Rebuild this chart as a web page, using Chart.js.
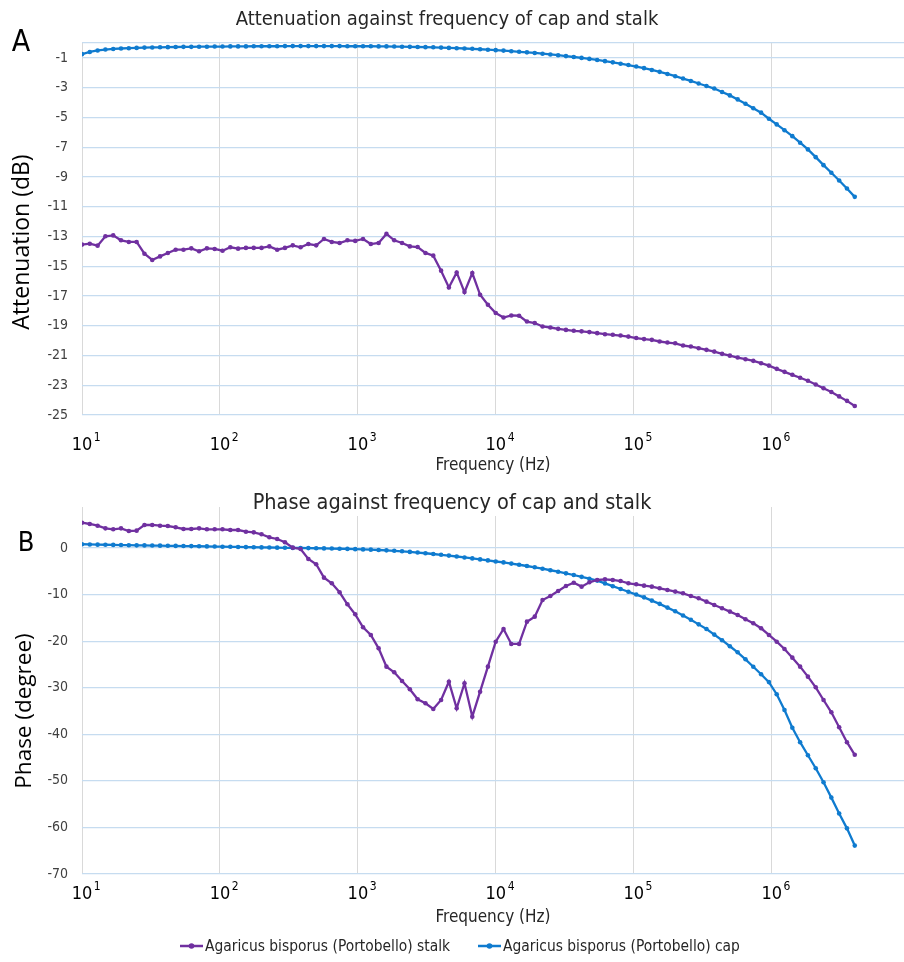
<!DOCTYPE html>
<html>
<head>
<meta charset="utf-8">
<script src="https://cdn.jsdelivr.net/npm/chart.js@4.4.0/dist/chart.umd.min.js"></script>
<style>
  html, body { margin: 0; padding: 0; background: #fff; overflow: hidden; }
  #wrap { position: relative; width: 904px; height: 962px; overflow: hidden; }
  canvas { position: absolute; left: 0; }
  #attChart { top: 0; }
  #phaseChart { top: 480px; }
</style>
</head>
<body>
<div id="wrap">
  <canvas id="attChart" width="904" height="480"></canvas>
  <canvas id="phaseChart" width="904" height="482"></canvas>
</div>
<script>
// sweep frequencies (Hz)
const freq = [
  10, 11.39, 12.98, 14.78, 16.84, 19.18, 21.85, 24.89, 28.36, 32.3,
  36.8, 41.92, 47.75, 54.4, 61.97, 70.6, 80.42, 91.61, 104.4, 118.9,
  135.4, 154.3, 175.8, 200.2, 228.1, 259.9, 296, 337.2, 384.2, 437.6,
  498.5, 567.9, 646.9, 737, 839.5, 956.4, 1090, 1241, 1414, 1611,
  1835, 2090, 2381, 2712, 3090, 3520, 4010, 4568, 5203, 5928,
  6752, 7692, 8762, 9981, 11370, 12950, 14750, 16810, 19150, 21810,
  24850, 28300, 32240, 36730, 41840, 47660, 54290, 61850, 70460, 80260,
  91430, 104200, 118700, 135200, 154000, 175400, 199800, 227600, 259300, 295400,
  336500, 383300, 436700, 497400, 566700, 645500, 735400, 837700, 954300, 1087000,
  1238000, 1411000, 1607000, 1830000, 2085000, 2375000, 2706000, 3083000, 3511000, 4000000
];

// attenuation (dB)
const attStalk = [
  -13.55, -13.49, -13.62, -12.99, -12.93, -13.26, -13.37, -13.37, -14.16, -14.58,
  -14.34, -14.11, -13.89, -13.89, -13.80, -14.00, -13.80, -13.84, -13.96, -13.73,
  -13.82, -13.77, -13.77, -13.77, -13.67, -13.89, -13.77, -13.60, -13.73, -13.51,
  -13.60, -13.17, -13.37, -13.44, -13.26, -13.30, -13.17, -13.51, -13.44, -12.83,
  -13.26, -13.44, -13.67, -13.71, -14.11, -14.29, -15.30, -16.43, -15.42, -16.74,
  -15.46, -16.92, -17.59, -18.15, -18.45, -18.31, -18.33, -18.72, -18.82, -19.05,
  -19.12, -19.21, -19.28, -19.34, -19.38, -19.43, -19.50, -19.57, -19.61, -19.66,
  -19.73, -19.83, -19.90, -19.95, -20.06, -20.13, -20.18, -20.33, -20.40, -20.51,
  -20.62, -20.74, -20.89, -21.01, -21.14, -21.25, -21.36, -21.52, -21.68, -21.90,
  -22.10, -22.30, -22.50, -22.70, -22.95, -23.20, -23.45, -23.75, -24.05, -24.40
];
const attCap = [
  -0.75, -0.60, -0.50, -0.44, -0.40, -0.37, -0.35, -0.33, -0.31, -0.30,
  -0.29, -0.28, -0.27, -0.26, -0.26, -0.25, -0.25, -0.24, -0.24, -0.23,
  -0.23, -0.23, -0.22, -0.22, -0.22, -0.22, -0.21, -0.21, -0.21, -0.21,
  -0.21, -0.21, -0.21, -0.21, -0.22, -0.22, -0.22, -0.22, -0.23, -0.23,
  -0.24, -0.25, -0.26, -0.27, -0.28, -0.29, -0.31, -0.33, -0.35, -0.37,
  -0.39, -0.42, -0.45, -0.48, -0.51, -0.55, -0.59, -0.63, -0.67, -0.72,
  -0.77, -0.82, -0.88, -0.94, -1.00, -1.07, -1.14, -1.22, -1.30, -1.39,
  -1.48, -1.58, -1.69, -1.81, -1.94, -2.08, -2.23, -2.39, -2.55, -2.72,
  -2.89, -3.06, -3.29, -3.52, -3.79, -4.08, -4.39, -4.68, -5.09, -5.47,
  -5.86, -6.26, -6.70, -7.15, -7.67, -8.21, -8.72, -9.24, -9.78, -10.34
];

// phase (degree)
const phaseStalk = [
  5.43, 5.15, 4.79, 4.22, 4.01, 4.22, 3.65, 3.72, 4.94, 4.94,
  4.79, 4.72, 4.44, 4.08, 4.08, 4.22, 4.01, 4.01, 4.01, 3.86,
  3.86, 3.50, 3.36, 2.94, 2.29, 1.93, 1.22, 0.07, -0.21, -2.36,
  -3.50, -6.37, -7.58, -9.51, -12.09, -14.24, -17.03, -18.68, -21.54, -25.48,
  -26.69, -28.56, -30.34, -32.49, -33.35, -34.57, -32.64, -28.71, -34.42, -29.05,
  -36.22, -30.86, -25.48, -20.12, -17.39, -20.61, -20.61, -15.82, -14.74, -11.17,
  -10.31, -9.23, -8.16, -7.45, -8.30, -7.37, -6.87, -6.72, -6.87, -7.09,
  -7.58, -7.80, -8.09, -8.30, -8.66, -9.02, -9.37, -9.73, -10.31, -10.80,
  -11.52, -12.23, -12.95, -13.66, -14.38, -15.31, -16.17, -17.24, -18.68, -20.12,
  -21.69, -23.55, -25.48, -27.63, -29.91, -32.64, -35.28, -38.50, -41.70, -44.40
];
const phaseCap = [
  0.80, 0.76, 0.72, 0.69, 0.66, 0.63, 0.60, 0.57, 0.55, 0.52,
  0.50, 0.47, 0.45, 0.42, 0.40, 0.37, 0.34, 0.31, 0.28, 0.25,
  0.22, 0.19, 0.16, 0.13, 0.10, 0.07, 0.04, 0.02, 0.00, -0.03,
  -0.06, -0.09, -0.12, -0.16, -0.20, -0.25, -0.30, -0.36, -0.43, -0.51,
  -0.60, -0.71, -0.84, -0.98, -1.13, -1.29, -1.46, -1.64, -1.83, -2.03,
  -2.24, -2.45, -2.67, -2.90, -3.10, -3.35, -3.60, -3.87, -4.15, -4.45,
  -4.78, -5.10, -5.45, -5.80, -6.20, -6.60, -7.00, -7.60, -8.20, -8.80,
  -9.40, -10.00, -10.60, -11.30, -12.00, -12.80, -13.60, -14.50, -15.40, -16.40,
  -17.40, -18.60, -19.80, -21.10, -22.40, -23.90, -25.50, -27.10, -28.80, -31.40,
  -34.80, -38.60, -41.70, -44.50, -47.30, -50.30, -53.60, -57.00, -60.20, -63.90
];

const decadeTicks = [10, 100, 1000, 10000, 100000, 1000000];
const attTicks = [-25, -23, -21, -19, -17, -15, -13, -11, -9, -7, -5, -3, -1, 0];
const phaseTicks = [-70, -60, -50, -40, -30, -20, -10, 0];

const stalkLabel = "Agaricus bisporus (Portobello) stalk";
const capLabel = "Agaricus bisporus (Portobello) cap";
const stalkColor = "#7030a0";
const capColor = "#0f7bcf";

const narrow = '"Liberation Sans Narrow", "DejaVu Sans Condensed", sans-serif';
const wide = '"Open Sans", "Noto Sans", sans-serif';

function toPoints(values) {
  return freq.map((f, i) => ({ x: f, y: values[i] }));
}

function lineSet(label, values, color) {
  return {
    label: label,
    data: toPoints(values),
    borderColor: color,
    backgroundColor: color,
    borderWidth: 2.3,
    pointRadius: 2.3,
    pointBorderWidth: 0,
    pointBackgroundColor: color,
    tension: 0
  };
}

// titles, panel letter, decade labels and legend are drawn on the canvas
const panelDecor = {
  id: "panelDecor",
  beforeDatasetsDraw(chart, args, o) {
    const ctx = chart.ctx;
    const xs = chart.scales.x;
    ctx.save();
    ctx.textBaseline = "middle";

    // chart title (white box hides the grid under it)
    ctx.font = o.titleFont;
    ctx.textAlign = "center";
    const tw = ctx.measureText(o.title).width;
    ctx.fillStyle = "#fff";
    ctx.fillRect(o.titleX - tw / 2 - 4, o.titleY - 13, tw + 8, 26);
    ctx.fillStyle = "#262626";
    ctx.fillText(o.title, o.titleX, o.titleY);

    // panel letter
    ctx.fillStyle = "#000";
    ctx.font = o.letterFont;
    ctx.fillText(o.letter, o.letterX, o.letterY);

    // y axis title
    ctx.save();
    ctx.translate(o.yTitleX, o.yTitleY);
    ctx.rotate(-Math.PI / 2);
    ctx.font = o.yTitleFont;
    ctx.fillStyle = "#000";
    ctx.fillText(o.yTitle, 0, 0);
    ctx.restore();

    // decade labels 10^n
    ctx.fillStyle = "#000";
    decadeTicks.forEach(v => {
      const x = xs.getPixelForValue(v);
      ctx.font = "18px " + narrow;
      ctx.textAlign = "center";
      const w = ctx.measureText("10").width;
      ctx.fillText("10", x, o.tickY);
      ctx.font = "12px " + narrow;
      ctx.textAlign = "left";
      ctx.fillText(String(Math.round(Math.log10(v))), x + w / 2 + 1.5, o.tickY - 7);
    });

    ctx.font = "17px " + narrow;
    ctx.textAlign = "center";
    ctx.fillStyle = "#262626";
    ctx.fillText("Frequency (Hz)", (chart.chartArea.left + chart.chartArea.right) / 2, o.xTitleY);

    if (o.legend) {
      const items = [[stalkLabel, stalkColor, 180], [capLabel, capColor, 478]];
      ctx.font = "15.4px " + narrow;
      ctx.textAlign = "left";
      items.forEach(([text, color, x]) => {
        ctx.strokeStyle = color;
        ctx.lineWidth = 2.5;
        ctx.beginPath();
        ctx.moveTo(x, o.legendY);
        ctx.lineTo(x + 23, o.legendY);
        ctx.stroke();
        ctx.fillStyle = color;
        ctx.beginPath();
        ctx.arc(x + 11.5, o.legendY, 2.8, 0, Math.PI * 2);
        ctx.fill();
        ctx.fillStyle = "#262626";
        ctx.fillText(text, x + 25, o.legendY + 1);
      });
    }
    ctx.restore();
  }
};

function makeOptions(cfg) {
  return {
    responsive: false,
    animation: false,
    devicePixelRatio: 1,
    layout: { autoPadding: false, padding: { top: cfg.top, left: 0, right: 0, bottom: 0 } },
    plugins: {
      legend: { display: false },
      tooltip: { enabled: false },
      panelDecor: cfg.decor
    },
    scales: {
      x: {
        type: "logarithmic",
        min: 10,
        max: 9.1e6,
        afterBuildTicks: scale => { scale.ticks = decadeTicks.map(v => ({ value: v })); },
        afterFit: scale => { scale.height = cfg.xHeight; },
        ticks: { display: false },
        grid: { color: "#d9d9d9", lineWidth: 1, drawTicks: false },
        border: { display: false }
      },
      y: {
        min: cfg.yMin,
        max: cfg.yMax,
        afterBuildTicks: scale => { scale.ticks = cfg.yTicks.map(v => ({ value: v })); },
        afterFit: scale => { scale.width = 82; },
        ticks: {
          padding: 14,
          color: "#404040",
          font: { family: narrow, size: 14 },
          callback: v => (cfg.hideZero && v === 0 ? "" : String(v))
        },
        grid: { color: "#c6dcf0", lineWidth: 1.2, drawTicks: false },
        border: { display: false }
      }
    }
  };
}

new Chart(document.getElementById("attChart"), {
  type: "line",
  data: { datasets: [lineSet(stalkLabel, attStalk, stalkColor), lineSet(capLabel, attCap, capColor)] },
  options: makeOptions({
    top: 43, xHeight: 65, yMin: -25, yMax: 0, yTicks: attTicks, hideZero: true,
    decor: {
      title: "Attenuation against frequency of cap and stalk",
      titleFont: "20px " + narrow, titleX: 447, titleY: 20,
      letter: "A", letterFont: "30px " + narrow, letterX: 21, letterY: 43,
      yTitle: "Attenuation (dB)", yTitleFont: "23px " + wide, yTitleX: 22, yTitleY: 242,
      tickY: 445, xTitleY: 466, legend: false
    }
  }),
  plugins: [panelDecor]
});

new Chart(document.getElementById("phaseChart"), {
  type: "line",
  data: { datasets: [lineSet(stalkLabel, phaseStalk, stalkColor), lineSet(capLabel, phaseCap, capColor)] },
  options: makeOptions({
    top: 27, xHeight: 88, yMin: -70, yMax: 8.8, yTicks: phaseTicks, hideZero: false,
    decor: {
      title: "Phase against frequency of cap and stalk",
      titleFont: "21.5px " + narrow, titleX: 452, titleY: 23,
      letter: "B", letterFont: "27px " + narrow, letterX: 26, letterY: 64,
      yTitle: "Phase (degree)", yTitleFont: "22.5px " + wide, yTitleX: 25, yTitleY: 231,
      tickY: 414, xTitleY: 438, legend: true, legendY: 466
    }
  }),
  plugins: [panelDecor]
});
</script>
</body>
</html>
